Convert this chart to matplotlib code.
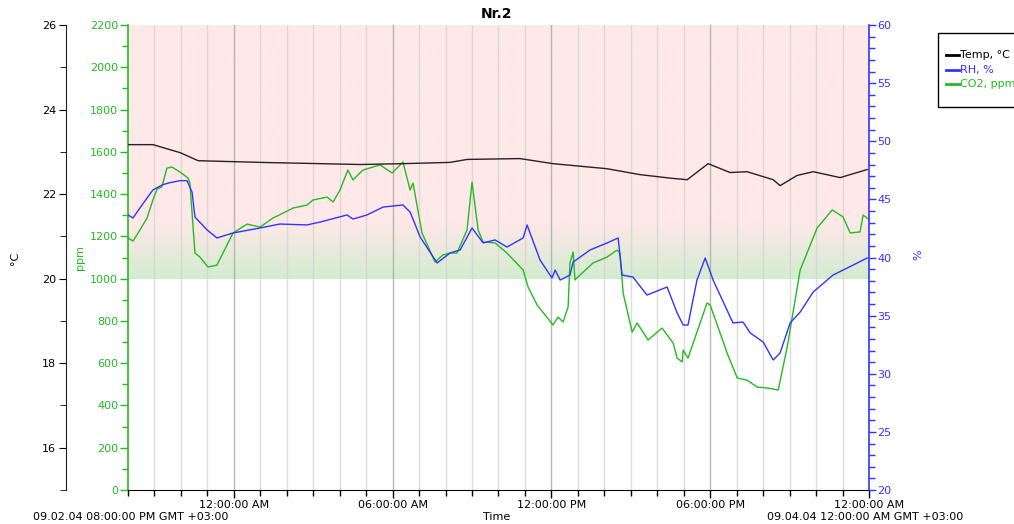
import numpy as np
import matplotlib
matplotlib.use('Agg')
import matplotlib.pyplot as plt
from matplotlib.ticker import MultipleLocator, FixedLocator
from matplotlib.colors import to_rgb
from matplotlib.patches import Rectangle
from matplotlib.lines import Line2D

# hours since 09.02.04 08:00:00 PM
temp_h = [0.00, 0.94, 1.32, 1.97, 2.65, 4.99, 7.26, 8.77, 10.39, 12.17, 12.81, 14.81,
          16.06, 18.10, 19.35, 20.60, 21.13, 21.92, 22.75, 23.39, 24.38, 24.64, 25.28,
          25.89, 26.91, 27.93]
temp_val = [23.17, 23.17, 23.10, 22.98, 22.79, 22.75, 22.72, 22.70, 22.72, 22.75, 22.82, 22.84,
            22.72, 22.60, 22.46, 22.37, 22.34, 22.72, 22.51, 22.53, 22.34, 22.20, 22.44,
            22.53, 22.39, 22.58]

rh_h = [0.00, 0.19, 0.45, 0.94, 1.32, 1.59, 1.97, 2.23, 2.42, 2.53, 2.99, 3.36, 3.97, 4.99,
        5.74, 6.76, 7.26, 8.28, 8.50, 9.03, 9.64, 10.39, 10.66, 11.04, 11.68, 12.17, 12.55,
        13.00, 13.42, 13.87, 14.32, 14.93, 15.08, 15.57, 16.02, 16.14, 16.33, 16.70, 16.82,
        17.46, 18.10, 18.52, 18.67, 19.08, 19.61, 20.37, 20.75, 20.98, 21.16, 21.50, 21.81,
        22.11, 22.86, 23.24, 23.51, 24.00, 24.38, 24.64, 25.02, 25.40, 25.89, 26.64, 27.40,
        27.93]
rh_val = [43.66, 43.40, 44.26, 45.81, 46.27, 46.44, 46.61, 46.61, 45.63, 43.48, 42.37, 41.68,
          42.11, 42.54, 42.88, 42.80, 43.05, 43.66, 43.31, 43.66, 44.34, 44.52, 43.91, 41.76,
          39.53, 40.39, 40.65, 42.54, 41.25, 41.51, 40.90, 41.68, 42.80, 39.78, 38.24, 38.92,
          38.06, 38.49, 39.61, 40.65, 41.25, 41.68, 38.49, 38.32, 36.77, 37.46, 35.23, 34.19,
          34.19, 38.06, 39.96, 38.06, 34.37, 34.45, 33.51, 32.73, 31.18, 31.79, 34.37, 35.31,
          37.03, 38.49, 39.35, 39.96]

co2_h = [0.00, 0.19, 0.45, 0.72, 0.94, 1.10, 1.28, 1.47, 1.66, 1.97, 2.27, 2.34, 2.53, 2.72,
         3.02, 3.36, 3.97, 4.50, 4.99, 5.48, 5.86, 6.24, 6.76, 6.99, 7.52, 7.75, 8.01, 8.31,
         8.50, 8.88, 9.52, 9.98, 10.39, 10.66, 10.77, 11.11, 11.60, 11.90, 12.17, 12.43,
         12.81, 13.00, 13.23, 13.42, 13.87, 14.32, 14.93, 15.12, 15.46, 16.06, 16.25, 16.44,
         16.63, 16.70, 16.82, 16.89, 17.08, 17.57, 18.10, 18.48, 18.59, 18.71, 19.05, 19.24,
         19.65, 20.18, 20.60, 20.75, 20.94, 20.98, 21.16, 21.88, 22.00, 22.64, 23.02, 23.39,
         23.77, 24.15, 24.57, 24.91, 25.40, 26.04, 26.61, 27.02, 27.29, 27.66, 27.78, 27.97]
co2_val = [1192, 1178, 1230, 1287, 1372, 1424, 1434, 1523, 1528, 1504, 1476, 1452, 1121, 1102,
           1055, 1064, 1216, 1258, 1244, 1287, 1310, 1334, 1348, 1372, 1386, 1363, 1419, 1514,
           1467, 1514, 1538, 1500, 1552, 1419, 1452, 1216, 1079, 1112, 1121, 1121,
           1230, 1457, 1230, 1173, 1169, 1121, 1041, 960, 875, 781, 818, 795,
           866, 1074, 1126, 994, 1017, 1074, 1102, 1135, 1121, 932, 747, 790,
           710, 766, 695, 624, 606, 662, 624, 885, 875, 648, 530, 520,
           487, 483, 473, 677, 1041, 1240, 1325, 1292, 1216, 1221, 1301, 1282]

major_h = [4, 10, 16, 22, 28]
major_labels = ['12:00:00 AM', '06:00:00 AM', '12:00:00 PM', '06:00:00 PM', '12:00:00 AM']

plt.rcParams['font.family'] = 'DejaVu Sans'
plt.rcParams['font.size'] = 8

fig = plt.figure(figsize=(10.14, 5.24), dpi=100)
ax = fig.add_axes([128/1014, 1-490/524, 741/1014, 465/524])
ax_rh = ax.twinx()
ax_t = ax.twinx()

green = '#22bb22'
blue = '#3333ff'

# background: pink above, gradient to green at 1000 ppm
pink = np.array(to_rgb('#ffe8e8'))
lgreen = np.array(to_rgb('#d3ecd0'))
ys = np.linspace(1000, 2200, 240)
frac = np.clip((ys - 1000) / 270.0, 0, 1)[:, None]
grad = lgreen * (1 - frac) + pink * frac
ax.imshow(grad[:, None, :], extent=[0, 28, 1000, 2200], origin='lower', aspect='auto', zorder=0)

for hh in range(1, 28):
    c = '#a8a8a8' if (hh - 4) % 6 == 0 else '#d4d4d4'
    ax.axvline(hh, color=c, lw=1, alpha=0.8, zorder=1)

ax.plot(co2_h, co2_val, color=green, lw=1, zorder=3)
ax_rh.plot(rh_h, rh_val, color=blue, lw=1)
ax_t.plot(temp_h, temp_val, color='#2a1f1f', lw=1)

ax.set_xlim(0, 28)
ax.set_ylim(0, 2200)
ax_rh.set_ylim(20, 60)
ax_t.set_ylim(15, 26)

# x axis
ax.xaxis.set_major_locator(FixedLocator(major_h))
ax.set_xticklabels(major_labels)
ax.xaxis.set_minor_locator(MultipleLocator(1))
ax.tick_params(axis='x', which='major', length=6, width=1, pad=1, labelsize=8)
ax.tick_params(axis='x', which='minor', length=4, width=1)

# CO2 axis (left, green)
ax.yaxis.set_major_locator(MultipleLocator(200))
ax.yaxis.set_minor_locator(MultipleLocator(100))
ax.tick_params(axis='y', which='both', colors=green, labelsize=8, width=1)
ax.tick_params(axis='y', which='major', length=6, pad=1)
ax.tick_params(axis='y', which='minor', length=4)
ax.spines['left'].set_color(green)
ax.spines['left'].set_linewidth(1.2)
ax.spines['top'].set_visible(False)
ax.spines['right'].set_visible(False)

# RH axis (right, blue)
ax_rh.yaxis.set_major_locator(MultipleLocator(5))
ax_rh.yaxis.set_minor_locator(MultipleLocator(1))
ax_rh.tick_params(axis='y', which='both', colors=blue, labelsize=8, width=1)
ax_rh.tick_params(axis='y', which='major', length=5, pad=1)
ax_rh.tick_params(axis='y', which='minor', length=4)
ax_rh.spines['right'].set_color(blue)
ax_rh.spines['right'].set_linewidth(1.2)
for s in ['top', 'left', 'bottom']:
    ax_rh.spines[s].set_visible(False)

# temperature axis (far left, black)
ax_t.yaxis.set_label_position('left')
ax_t.yaxis.set_ticks_position('left')
ax_t.spines['left'].set_position(('axes', -62/741))
ax_t.spines['left'].set_color('#202020')
for s in ['top', 'right', 'bottom']:
    ax_t.spines[s].set_visible(False)
ax_t.yaxis.set_minor_locator(MultipleLocator(1))
ax_t.set_yticks([16, 18, 20, 22, 24, 26])
ax_t.tick_params(axis='y', which='major', length=5, pad=2, labelsize=8)
ax_t.tick_params(axis='y', which='minor', length=4)

fig.text(497/1014, 1-14/524, 'Nr.2', ha='center', va='center', fontsize=10, fontweight='bold')
fig.text(15/1014, 1-258/524, '°C', rotation=90, ha='center', va='center', fontsize=8)
fig.text(80/1014, 1-258/524, 'ppm', rotation=90, ha='center', va='center', fontsize=8, color=green)
fig.text(918/1014, 1-255/524, '%', rotation=90, ha='center', va='center', fontsize=8, color=blue)
fig.text(497/1014, 1-517/524, 'Time', ha='center', va='center', fontsize=8)
fig.text(33/1014, 1-517/524, '09.02.04 08:00:00 PM GMT +03:00', ha='left', va='center', fontsize=8)
fig.text(963/1014, 1-517/524, '09.04.04 12:00:00 AM GMT +03:00', ha='right', va='center', fontsize=8)

# legend box, clipped by the right edge of the figure as in the original
W, H = 1014.0, 524.0
fig.patches.append(Rectangle((938/W, 1-107/H), 90/W, 74/H, transform=fig.transFigure,
                             facecolor='white', edgecolor='black', lw=1))
leg_labels = ['Temp, °C', 'RH, %', 'CO2, ppm']
leg_colors = ['black', blue, green]
leg_rows = [55, 70, 84]
for lab, c, yy in zip(leg_labels, leg_colors, leg_rows):
    fig.lines.append(Line2D([946/W, 959/W], [1-yy/H, 1-yy/H], transform=fig.transFigure,
                            color=c, lw=2))
    fig.text(960/W, 1-yy/H, lab, ha='left', va='center', fontsize=8, color=c)

fig.savefig('out.png', dpi=100)
